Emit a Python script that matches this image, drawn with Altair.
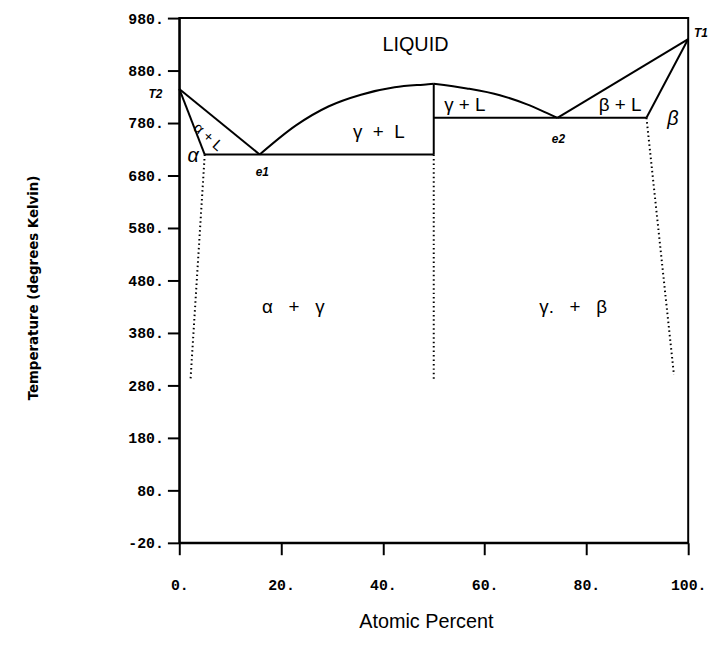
import altair as alt
import pandas as pd

# ---- phase-boundary curves (atomic percent, temperature K) ----
alpha_solidus_x = [0, 5]
alpha_solidus_y = [845, 720]
alpha_liquidus_x = [0, 15.8]
alpha_liquidus_y = [845, 720]
eutectic1_x = [5, 50]
eutectic1_y = [720, 720]
gamma_liq_left_x = [15.8, 23.0, 29.4, 35.7, 42.3, 48.9, 50]
gamma_liq_left_y = [720, 776, 812, 834, 848, 854, 855]
gamma_liq_right_x = [50, 56.5, 63.0, 68.2, 72.7, 74.3]
gamma_liq_right_y = [855, 846, 833, 816, 797, 790]
gamma_line_x = [50, 50]
gamma_line_y = [720, 855]
eutectic2_x = [50, 91.8]
eutectic2_y = [790, 790]
beta_liquidus_x = [74.3, 100]
beta_liquidus_y = [790, 940]
beta_solidus_x = [91.8, 100]
beta_solidus_y = [790, 940]

# ---- solvus (dotted) ----
alpha_solvus_x = [5, 2.2]
alpha_solvus_y = [720, 290]
gamma_solvus_x = [50, 50]
gamma_solvus_y = [720, 290]
beta_solvus_x = [91.8, 97.2]
beta_solvus_y = [790, 300]

# ---- annotations ----
NB = "\u00a0"
big_text = ["LIQUID"]
big_x = [46.4]
big_y = [929]

region_text = ["γ" + NB * 2 + "+" + NB * 2 + "L",
               "γ" + NB + "+" + NB + "L",
               "β" + NB + "+" + NB + "L",
               "α" + NB * 3 + "+" + NB * 3 + "γ",
               "γ." + NB * 3 + "+" + NB * 3 + "β"]
region_x = [39.2, 56.1, 86.6, 22.4, 77.4]
region_y = [763, 814, 814, 429, 429]

point_text = ["T2", "T1", "e1", "e2"]
point_x = [-4.7, 102.5, 16.3, 74.5]
point_y = [835, 952, 686, 750]

phase_text = ["α", "β"]
phase_x = [2.7, 97.0]
phase_y = [718, 788]

tilted_text = ["α + L"]
tilted_x = [5.7]
tilted_y = [754]

x_ticks = [0, 20, 40, 60, 80, 100]
y_ticks = [-20, 80, 180, 280, 380, 480, 580, 680, 780, 880, 980]


def segs(items):
    rows = []
    for name, xs, ys in items:
        for i, (a, b) in enumerate(zip(xs, ys)):
            rows.append({"seg": name, "ord": i, "x": a, "y": b})
    return pd.DataFrame(rows)


solid = segs([
    ("as", alpha_solidus_x, alpha_solidus_y),
    ("al", alpha_liquidus_x, alpha_liquidus_y),
    ("e1", eutectic1_x, eutectic1_y),
    ("gl", gamma_liq_left_x, gamma_liq_left_y),
    ("gr", gamma_liq_right_x, gamma_liq_right_y),
    ("gv", gamma_line_x, gamma_line_y),
    ("e2", eutectic2_x, eutectic2_y),
    ("bl", beta_liquidus_x, beta_liquidus_y),
    ("bs", beta_solidus_x, beta_solidus_y),
])
dotted = segs([
    ("a", alpha_solvus_x, alpha_solvus_y),
    ("g", gamma_solvus_x, gamma_solvus_y),
    ("b", beta_solvus_x, beta_solvus_y),
])

xs = alt.Scale(domain=[0, 100], nice=False, zero=False)
ys = alt.Scale(domain=[-20, 980], nice=False, zero=False)

X = alt.X("x:Q", scale=xs, axis=alt.Axis(
    values=x_ticks, labelExpr="datum.value + '.'", title="Atomic Percent",
    titleFont="Liberation Sans", titleFontSize=20, titleFontWeight="normal",
    titleX=249, titleY=80, titleBaseline="middle", titleAlign="center",
    labelPadding=23, labelFlush=False))
Y = alt.Y("y:Q", scale=ys, axis=alt.Axis(
    values=y_ticks, labelExpr="datum.value + '.'",
    title="Temperature (degrees Kelvin)",
    titleFont="DejaVu Sans Condensed, Liberation Sans Narrow, sans-serif",
    titleFontSize=15, titleFontWeight="bold", titleAngle=270,
    titleX=-148, titleY=272, titleBaseline="middle", titleAlign="center",
    labelPadding=4, labelFlush=False))

lines = alt.Chart(solid).mark_line(color="black", strokeWidth=2, interpolate="monotone").encode(
    x=X, y=Y, detail="seg:N", order="ord:Q")
dots = alt.Chart(dotted).mark_line(color="black", strokeWidth=2, strokeDash=[1.5, 3]).encode(
    x="x:Q", y="y:Q", detail="seg:N", order="ord:Q")


def text_layer(t, xv, yv, **kw):
    df = pd.DataFrame({"t": t, "x": xv, "y": yv})
    return alt.Chart(df).mark_text(color="black", **kw).encode(
        x="x:Q", y="y:Q", text="t:N")


big = text_layer(big_text, big_x, big_y, font="Liberation Sans", fontSize=20)
region = text_layer(region_text, region_x, region_y, font="Liberation Sans", fontSize=19)
points = text_layer(point_text, point_x, point_y, font="Liberation Sans",
                    fontSize=12, fontWeight="bold", fontStyle="italic")
phase = text_layer(phase_text, phase_x, phase_y, font="Liberation Sans",
                   fontSize=20, fontStyle="italic")
tilted = text_layer(tilted_text, tilted_x, tilted_y, font="Liberation Sans",
                    fontSize=15, angle=42)

chart = alt.layer(lines, dots, big, region, points, phase, tilted).properties(
    width=514, height=530,
    autosize=alt.AutoSizeParams(type="none"),
    padding={"left": 173, "top": 7, "right": 20, "bottom": 100},
).configure_view(stroke="black", strokeWidth=2).configure_axis(
    grid=False, domainColor="black", domainWidth=2, tickColor="black",
    tickWidth=2, tickSize=12, labelColor="black", titleColor="black",
    labelFont="Liberation Mono", labelFontWeight="bold", labelFontSize=15,
)

chart.save("out.html", embed_options={"renderer": "svg", "actions": False})
